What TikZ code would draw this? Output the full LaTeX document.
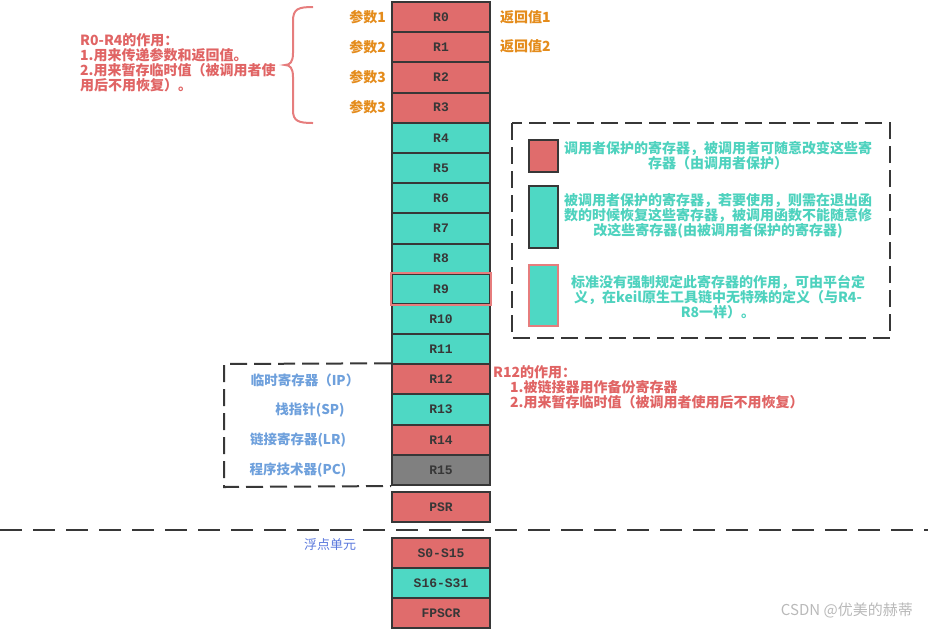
\documentclass[tikz,border=0pt]{standalone}
\usepackage{fontspec}
\newfontfamily\cjk{Noto Sans CJK SC}
\newfontfamily\regfont{Liberation Mono}
\definecolor{rd}{RGB}{224,108,108}
\definecolor{tl}{RGB}{78,216,196}
\definecolor{gy}{RGB}{128,128,128}
\definecolor{edge}{RGB}{55,55,55}
\definecolor{orangetxt}{RGB}{228,140,28}
\definecolor{redtxt}{RGB}{224,100,100}
\definecolor{tealtxt}{RGB}{78,210,190}
\definecolor{bluetxt}{RGB}{110,160,220}
\definecolor{fputxt}{RGB}{90,120,220}
\definecolor{bracecol}{RGB}{230,125,125}
\definecolor{wm}{RGB}{185,185,185}
\begin{document}
\begin{tikzpicture}[x=1pt,y=-1pt,
  reg/.style={draw=edge, line width=2pt, minimum width=98pt, minimum height=30.2pt,
    inner sep=0pt, font=\regfont\bfseries\fontsize{13}{15}\selectfont, text=edge},
  txt/.style={font=\cjk\bfseries\fontsize{14}{15}\selectfont, inner sep=0pt},
  lbl/.style={txt, text=orangetxt},
  side/.style={txt, font=\cjk\bfseries\fontsize{13.5}{15}\selectfont, text=bluetxt},
  dashbox/.style={draw=edge, line width=2pt, dash pattern=on 17pt off 7pt},
  swatch/.style={draw=edge, line width=2pt, minimum width=29pt, inner sep=0pt}]
\useasboundingbox (0,0) rectangle (928,630);
% register column
\foreach \n/\c [count=\i from 0] in {R0/rd,R1/rd,R2/rd,R3/rd,R4/tl,R5/tl,R6/tl,R7/tl,R8/tl,R9/tl,R10/tl,R11/tl,R12/rd,R13/tl,R14/rd,R15/gy}
  \node[reg, fill=\c] (\n) at (441,{2+30.19*(\i+0.5)}) {\n};
\draw[draw=bracecol, line width=2pt] (R9.south west) rectangle (R9.north east);
\node[reg, fill=rd] (PSR) at (441,507) {PSR};
\node[reg, fill=rd] (S0) at (441,553) {S0-S15};
\node[reg, fill=tl] (S16) at (441,583) {S16-S31};
\node[reg, fill=rd] (FPSCR) at (441,613) {FPSCR};
% separator
\draw[edge, line width=2.5pt, dash pattern=on 22pt off 11pt] (0,530) -- (928,530);
\node[txt, font=\cjk\fontsize{13}{15}\selectfont, text=fputxt, anchor=west] (fpu) at (304,545) {浮点单元};
% parameters and return values
\node[lbl, anchor=east] (p1) at (386,17) {参数1};
\node[lbl, anchor=east] (p2) at (386,47) {参数2};
\node[lbl, anchor=east] (p3) at (386,77) {参数3};
\node[lbl, anchor=east] (p4) at (386,107) {参数3};
\node[lbl, anchor=west] (v1) at (500,17) {返回值1};
\node[lbl, anchor=west] (v2) at (500,46) {返回值2};
% brace
\draw[bracecol, line width=2pt] (313,7) .. controls (298,7) and (293,9) .. (293,21) -- (293,53)
  .. controls (293,62) and (290,65) .. (285,65) .. controls (290,65) and (293,68) .. (293,77)
  -- (293,110) .. controls (293,121) and (298,123) .. (313,123);
\node[txt, text=redtxt, align=left, anchor=north west] (r04) at (80,33)
  {R0-R4的作用：\\1.用来传递参数和返回值。\\2.用来暂存临时值（被调用者使\\用后不用恢复）。};
% legend
\draw[dashbox] (512,123) rectangle (890,338);
\node[swatch, fill=rd, minimum height=32pt] (k1) at (543.5,156) {};
\node[swatch, fill=tl, minimum height=62pt] (k2) at (543.5,217) {};
\node[swatch, fill=tl, draw=bracecol, minimum height=61pt] (k3) at (543.5,295.5) {};
\node[txt, text=tealtxt, align=center] (t1) at (718,155.5)
  {调用者保护的寄存器，被调用者可随意改变这些寄\\存器（由调用者保护）};
\node[txt, text=tealtxt, align=center] (t2) at (718,216)
  {被调用者保护的寄存器，若要使用，则需在退出函\\数的时候恢复这些寄存器，被调用函数不能随意修\\改这些寄存器(由被调用者保护的寄存器)};
\node[txt, text=tealtxt, align=center] (t3) at (718,297)
  {标准没有强制规定此寄存器的作用，可由平台定\\义，在keil原生工具链中无特殊的定义（与R4-\\R8一样）。};
% special registers
\draw[dashbox] (R12.north west) -- (224,364) -- (224,487) -- (R15.south west);
\node[side] (ip) at (305,380) {临时寄存器（IP）};
\node[side] (sp) at (310,410) {栈指针(SP)};
\node[side] (lr) at (298,440) {链接寄存器(LR)};
\node[side] (pc) at (298,470) {程序技术器(PC)};
% R12 note
\node[txt, text=redtxt, align=left, anchor=north west] (r12n) at (493,365)
  {R12的作用：\\\hspace*{17pt}1.被链接器用作备份寄存器\\\hspace*{17pt}2.用来暂存临时值（被调用者使用后不用恢复）};
% watermark
\node[font=\cjk\fontsize{15}{17}\selectfont, text=wm, anchor=east, inner sep=0pt] (wmk) at (913,610) {CSDN @优美的赫蒂};
\end{tikzpicture}
\end{document}
